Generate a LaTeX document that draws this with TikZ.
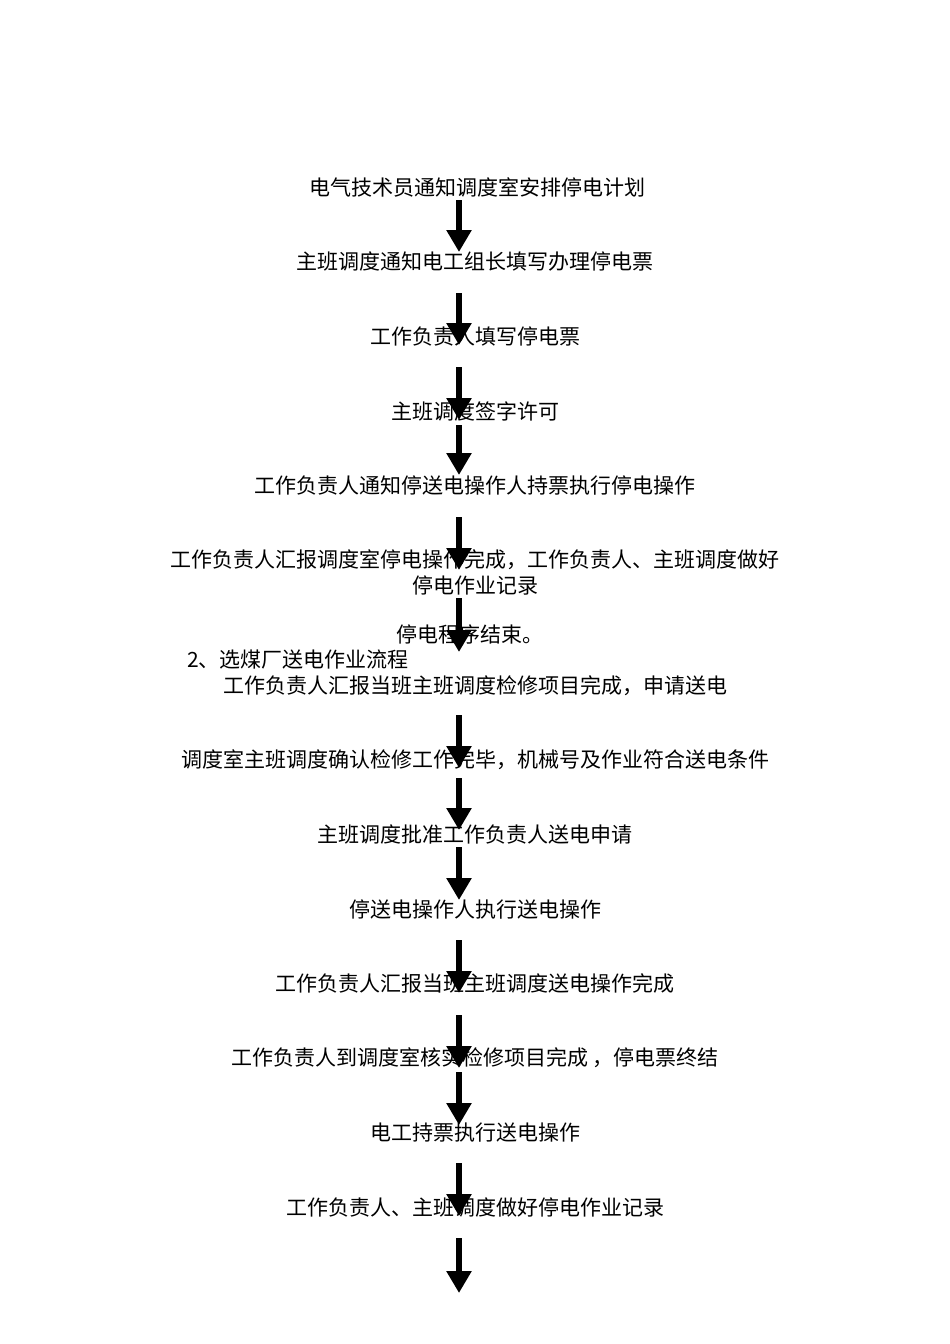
\documentclass[tikz,border=0pt]{standalone}
\usepackage{fontspec}
\setmainfont{Noto Sans CJK SC}
\usetikzlibrary{arrows.meta}
\begin{document}
\begin{tikzpicture}[x=1pt,y=-1pt,
  t/.style={font=\fontsize{21}{26}\selectfont, inner sep=0pt, align=center},
  arr/.style={line width=6pt,-{Triangle[width=24pt,length=22pt]}}]
\useasboundingbox[fill=white] (0,0) rectangle (950,1344);
\node[t] (a1) at (477,187) {电气技术员通知调度室安排停电计划};
\node[t] (a2) at (475,262) {主班调度通知电工组长填写办理停电票};
\node[t] (a3) at (475,336) {工作负责人填写停电票};
\node[t] (a4) at (475,411) {主班调度签字许可};
\node[t] (a5) at (475,485) {工作负责人通知停送电操作人持票执行停电操作};
\node[t] (a6) at (475,572) {工作负责人汇报调度室停电操作完成，工作负责人、主班调度做好\\停电作业记录};
\node[t] (a7) at (470,634) {停电程序结束。};
\node[t,anchor=west] (h) at (187,660) {2、选煤厂送电作业流程};
\node[t] (b1) at (475,686) {工作负责人汇报当班主班调度检修项目完成，申请送电};
\node[t] (b2) at (475,760) {调度室主班调度确认检修工作完毕，机械号及作业符合送电条件};
\node[t] (b3) at (475,834) {主班调度批准工作负责人送电申请};
\node[t] (b4) at (475,909) {停送电操作人执行送电操作};
\node[t] (b5) at (475,983) {工作负责人汇报当班主班调度送电操作完成};
\node[t] (b6) at (475,1058) {工作负责人到调度室核实检修项目完成 ，停电票终结};
\node[t] (b7) at (475,1133) {电工持票执行送电操作};
\node[t] (b8) at (475,1207) {工作负责人、主班调度做好停电作业记录};
\foreach \n/\a/\b in {1/200/252,2/293/345,3/367/420,4/425/475,5/517/570,6/598/652,7/715/768,8/778/830,9/847/900,10/940/993,11/1015/1068,12/1072/1125,13/1163/1216,14/1238/1293}{
  \coordinate (s\n) at (459,\a); \coordinate (e\n) at (459,\b);
  \draw[arr] (s\n) -- (e\n);
}
\end{tikzpicture}
\end{document}
